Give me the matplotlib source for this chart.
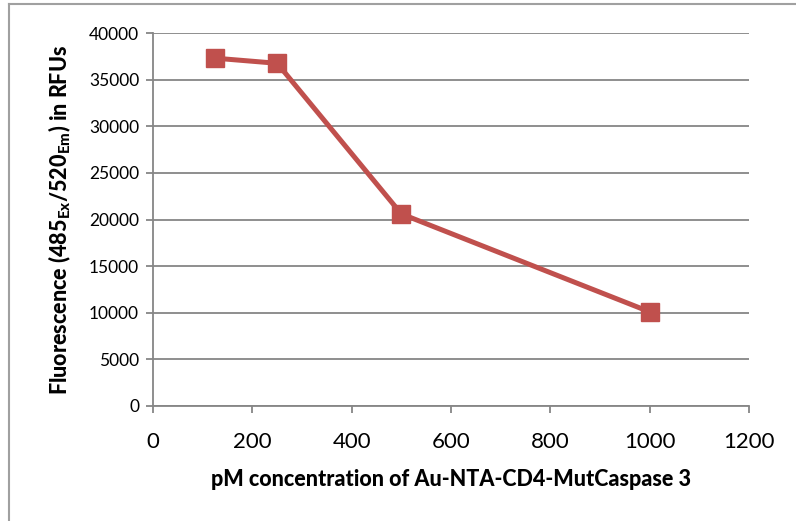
import matplotlib
matplotlib.use("Agg")
import matplotlib.pyplot as plt
from matplotlib.lines import Line2D

# Fluorescence readout versus nanoparticle conjugate concentration
concentration_pM = [125, 250, 500, 1000]
fluorescence_rfu = [37300, 36750, 20600, 10100]

x_ticks = [0, 200, 400, 600, 800, 1000, 1200]
y_ticks = [0, 5000, 10000, 15000, 20000, 25000, 30000, 35000, 40000]

plt.rcParams["font.family"] = ["Lato", "DejaVu Sans"]
plt.rcParams["mathtext.fontset"] = "custom"
plt.rcParams["mathtext.rm"] = "Lato"
plt.rcParams["mathtext.bf"] = "Lato:black"

series_color = "#C0504D"
grid_color = "#868686"

fig = plt.figure(figsize=(7.96, 5.21), dpi=100)
ax = fig.add_axes([153 / 796, 1 - 406 / 521, (749 - 153) / 796, (406 - 33) / 521])

ax.plot(concentration_pM, fluorescence_rfu, color=series_color, linewidth=3.6,
        marker="s", markersize=13, markerfacecolor=series_color,
        markeredgecolor=series_color, zorder=3, clip_on=False)

ax.set_xlim(x_ticks[0], x_ticks[-1])
ax.set_ylim(y_ticks[0], y_ticks[-1])
ax.set_xticks(x_ticks)
ax.set_yticks(y_ticks)
ax.set_xticklabels([str(v) for v in x_ticks], fontsize=16)
ax.set_yticklabels([str(v) for v in y_ticks], fontsize=12.5)

ax.yaxis.grid(True, color=grid_color, linewidth=1.3)
ax.set_axisbelow(True)

for side in ("top", "right"):
    ax.spines[side].set_visible(False)
for side in ("left", "bottom"):
    ax.spines[side].set_color(grid_color)
    ax.spines[side].set_linewidth(1.3)

ax.tick_params(axis="both", direction="out", color=grid_color, width=1.3, length=5)
ax.tick_params(axis="x", pad=14)
ax.tick_params(axis="y", pad=5)

ax.set_xlabel("pM concentration of Au-NTA-CD4-MutCaspase 3",
              fontsize=15.5, fontweight="black")
ax.xaxis.set_label_coords(0.5, -(469 - 406) / 373)
ax.set_ylabel(r"Fluorescence (485$_{\mathbf{Ex}}$/520$_{\mathbf{Em}}$) in RFUs",
              fontsize=15.5, fontweight="black")
ax.yaxis.set_label_coords(-(153 - 73) / 596, 0.5)

# Outer chart frame (top and left edges)
fig.add_artist(Line2D([9 / 796, 1.0], [1 - 4 / 521, 1 - 4 / 521],
                      transform=fig.transFigure, color="#A0A0A0", linewidth=1.5))
fig.add_artist(Line2D([9 / 796, 9 / 796], [0.0, 1 - 4 / 521],
                      transform=fig.transFigure, color="#A0A0A0", linewidth=1.5))

fig.savefig("out.png", dpi=100)
